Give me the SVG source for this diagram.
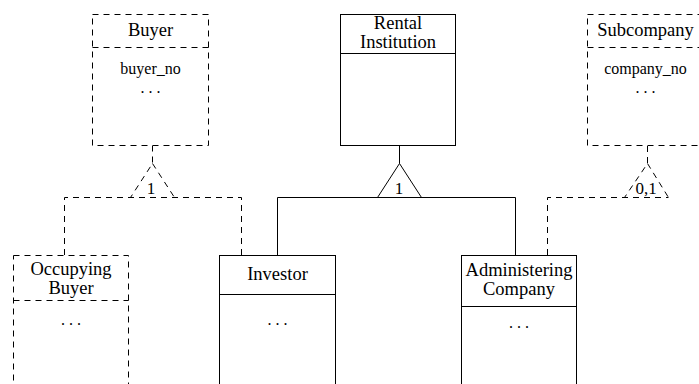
<svg xmlns="http://www.w3.org/2000/svg" width="699" height="384" viewBox="0 0 699 384">
<style>
.box{fill:#fff;stroke:#000;stroke-width:1}
.dash{stroke-dasharray:6,5}
.ln{fill:none;stroke:#000;stroke-width:1}
.t{font-family:"Liberation Serif","Times New Roman",serif;font-size:18.5px;text-anchor:middle;fill:#000}
.a{font-family:"Liberation Serif","Times New Roman",serif;font-size:16px;text-anchor:middle;fill:#000}
.l{font-family:"Liberation Serif","Times New Roman",serif;font-size:17px;text-anchor:middle;fill:#000}
</style>
<rect width="699" height="384" fill="#fff"/>
<g id="connectors">
  <path class="ln dash" d="M152.5,145.5 V163.5 L130.5,197.5 M152.5,163.5 L174.5,197.5"/>
  <path class="ln dash" d="M64.5,255 V197.5 H241.5 V255"/>
  <text class="l" x="151" y="194">1</text>
  <path class="ln" d="M399.5,146 V163.5"/>
  <path class="ln" d="M399.5,163.5 L377.5,197.5 H421.5 Z"/>
  <path class="ln" d="M277.5,255 V197.5 H515.5 V255"/>
  <text class="l" x="399" y="194">1</text>
  <path class="ln dash" d="M647.5,146 V163.5 L624.5,197.5 M647.5,163.5 L668.5,197.5"/>
  <path class="ln dash" d="M547.5,255 V197.5 H668.5"/>
  <text class="l" x="646" y="194">0,1</text>
</g>
<g id="buyer">
  <rect class="box dash" x="92.5" y="14.5" width="116" height="131"/>
  <line class="ln dash" x1="92.5" y1="47.5" x2="208.5" y2="47.5"/>
  <text class="t" x="150.5" y="36">Buyer</text>
  <text class="a" x="150.5" y="74">buyer_no</text>
  <text class="a" x="150.5" y="93">. . .</text>
</g>
<g id="rental-institution">
  <rect class="box" x="340.5" y="14.5" width="115" height="131"/>
  <line class="ln" x1="340.5" y1="53.5" x2="455.5" y2="53.5"/>
  <text class="t" x="398" y="29">Rental</text>
  <text class="t" x="398" y="48">Institution</text>
</g>
<g id="subcompany">
  <rect class="box dash" x="587.5" y="14.5" width="116" height="131"/>
  <line class="ln dash" x1="587.5" y1="47.5" x2="703.5" y2="47.5"/>
  <text class="t" x="645.5" y="36">Subcompany</text>
  <text class="a" x="645.5" y="74">company_no</text>
  <text class="a" x="645.5" y="93">. . .</text>
</g>
<g id="occupying-buyer">
  <rect class="box dash" x="13.5" y="255.5" width="115" height="140"/>
  <line class="ln dash" x1="13.5" y1="300.5" x2="128.5" y2="300.5"/>
  <text class="t" x="71" y="275">Occupying</text>
  <text class="t" x="71" y="294">Buyer</text>
  <text class="a" x="71" y="325">. . .</text>
</g>
<g id="investor">
  <rect class="box" x="219.5" y="255.5" width="116" height="140"/>
  <line class="ln" x1="219.5" y1="294.5" x2="335.5" y2="294.5"/>
  <text class="t" x="277.5" y="280">Investor</text>
  <text class="a" x="277.5" y="325">. . .</text>
</g>
<g id="administering-company">
  <rect class="box" x="461.5" y="255.5" width="115" height="140"/>
  <line class="ln" x1="461.5" y1="306.5" x2="576.5" y2="306.5"/>
  <text class="t" x="519" y="276">Administering</text>
  <text class="t" x="519" y="295">Company</text>
  <text class="a" x="519" y="328">. . .</text>
</g>
</svg>
